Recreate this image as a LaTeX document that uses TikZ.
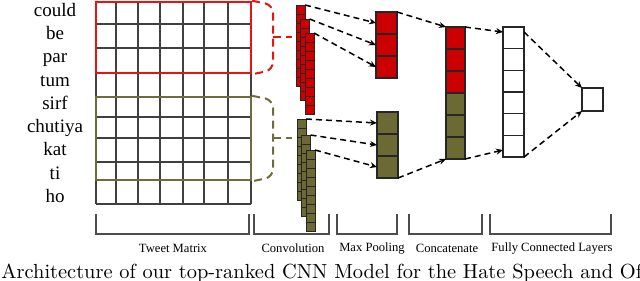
\documentclass[tikz,border=0pt]{standalone}
\usepackage{fontspec}
\newfontfamily\timesfont{Liberation Serif}
\usetikzlibrary{arrows.meta,positioning,fit}
\definecolor{cnnred}{RGB}{204,0,0}
\definecolor{winred}{RGB}{232,20,20}
\definecolor{cnnolive}{RGB}{107,105,52}
\definecolor{winolive}{RGB}{110,108,62}

\begin{document}
\begin{tikzpicture}[x=0.5pt,y=-0.5pt,
word/.style={font=\timesfont\fontsize{9.5}{10}\selectfont, text height=1.5ex, text depth=0.25ex, inner sep=0pt},
lbl/.style={font=\timesfont\fontsize{6.3}{7}\selectfont, inner sep=0pt},
gridline/.style={draw=black!75, line width=0.7pt},
redwin/.style={draw=winred, line width=1.2pt, inner sep=0pt},
olivewin/.style={draw=winolive, line width=1.2pt, inner sep=0pt},
winbrace/.style={dash pattern=on 4pt off 2.5pt, line width=1pt, rounded corners=4pt},
convcell/.style={draw=black!85, line width=0.4pt, anchor=north west, minimum width=4.5pt, minimum height=4.5pt, inner sep=0pt, outer sep=0pt},
poolcell/.style={draw=black!85, line width=0.6pt, anchor=north west, minimum width=10.5pt, minimum height=11pt, inner sep=0pt, outer sep=0pt},
catcell/.style={poolcell, minimum width=9.5pt},
fccell/.style={poolcell, fill=white, minimum height=10.83pt},
outcell/.style={poolcell, fill=white, minimum height=11.5pt},
arrow/.style={-{Stealth[length=3.5pt,width=3pt]}, dash pattern=on 3pt off 2pt, line width=0.75pt},
brk/.style={draw=black!70, line width=0.6pt}
]
\clip (0,0) rectangle (640,280);

% tweet matrix
\foreach \w [count=\i from 0] in {could,be,par,tum,sirf,chutiya,kat,ti,ho}
  \node[word] (w-\w) at (55,{11+23.25*\i}) {\w};
\foreach \y in {2,24,48,73,97,117,138,162,180,204}
  \draw[gridline] (96,\y) -- (251,\y);
\foreach \x in {96,116,138,160,183,204,228,251}
  \draw[gridline] (\x,2) -- (\x,204);
\node[redwin, fit={(96,2) (251,73)}] (redwin) {};
\node[olivewin, fit={(96,97) (251,180)}] (olivewin) {};

% convolution
\foreach \c/\x/\y in {1/296/5,2/300.5/19,3/305/33}
  \foreach \k in {0,...,8}
    \node[convcell, fill=cnnred] (rc\c-\k) at (\x,{\y+9*\k}) {};
\foreach \c/\x/\y in {1/297/119,2/301.5/135,3/306/150}
  \foreach \k in {0,...,8}
    \node[convcell, fill=cnnolive] (oc\c-\k) at (\x,{\y+9*\k}) {};

% windows to filters
\coordinate (rmid) at (273,37);
\coordinate (rtick) at (292,37);
\coordinate (omid) at (273,138);
\coordinate (otick) at (292,138);
\draw[winbrace, winred] (redwin.north east) -- (273,5) -- (273,70) -- (redwin.south east);
\draw[winbrace, winred] (rmid) -- (rtick);
\draw[winbrace, winolive] (olivewin.north east) -- (273,100) -- (273,177) -- (olivewin.south east);
\draw[winbrace, winolive] (omid) -- (otick);

% max pooling
\foreach \k in {1,2,3}
  \node[poolcell, fill=cnnred] (rp\k) at (376,{12+22*(\k-1)}) {};
\foreach \k in {1,2,3}
  \node[poolcell, fill=cnnolive] (op\k) at (377,{112+22*(\k-1)}) {};

% concatenate
\foreach \k/\col in {1/cnnred,2/cnnred,3/cnnred,4/cnnolive,5/cnnolive,6/cnnolive}
  \node[catcell, fill=\col] (cc\k) at (446,{27+22*(\k-1)}) {};

% fully connected
\foreach \k in {1,...,6}
  \node[fccell] (fc\k) at (503,{27+21.67*(\k-1)}) {};
\node[outcell] (out) at (582,88) {};

% arrows
\foreach \c in {1,2,3}
  \draw[arrow] (rc\c-0.north east) -- (rp\c.west);
\foreach \c in {1,2,3}
  \draw[arrow] (oc\c-0.north east) -- (op\c.west);
\draw[arrow] (rp1.north east) -- (cc1.north west);
\draw[arrow] (op3.south east) -- (cc6.south west);
\draw[arrow] (cc1.north east) -- ([yshift=-2.5pt]fc1.north west);
\draw[arrow] (cc6.south east) -- ([yshift=3.5pt]fc6.south west);
\draw[arrow] ([yshift=-2.5pt]fc1.north east) -- (out.north west);
\draw[arrow] (fc6.south east) -- (out.south west);

% stage brackets
\foreach \a/\b/\m/\txt/\nm in {96/249/173/Tweet Matrix/tweet,254/329/293/Convolution/conv,337/397/372/Max Pooling/pool,409/482/447/Concatenate/cat,490/611/552/Fully Connected Layers/fc}
{
  \draw[brk] (\a,214) |- (\b,234) -- (\b,214);
  \node[lbl] (lbl-\nm) at (\m,248) {\txt};
}

\node[anchor=base west, inner sep=0pt, font=\fontsize{10.2}{12}\selectfont] (caption) at (1,278) {Architecture of our top-ranked CNN Model for the Hate Speech and Of};
\end{tikzpicture}
\end{document}
